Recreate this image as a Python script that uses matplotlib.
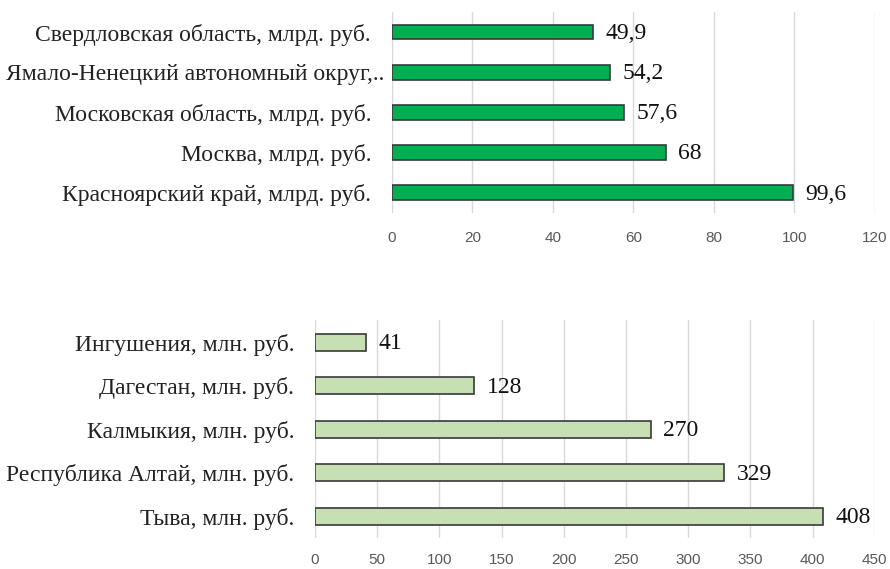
import numpy as np
import matplotlib.pyplot as plt

# top chart: billions of rubles
top_labels = ['Красноярский край, млрд. руб.', 'Москва, млрд. руб.',
              'Московская область, млрд. руб.',
              'Ямало-Ненецкий автономный округ,..',
              'Свердловская область, млрд. руб.']
top_values = [99.6, 68, 57.6, 54.2, 49.9]
top_text = ['99,6', '68', '57,6', '54,2', '49,9']
top_ticks = [0, 20, 40, 60, 80, 100, 120]

# bottom chart: millions of rubles
bot_labels = ['Тыва, млн. руб.', 'Республика Алтай, млн. руб.',
              'Калмыкия, млн. руб.', 'Дагестан, млн. руб.',
              'Ингушения, млн. руб.']
bot_values = [408, 329, 270, 128, 41]
bot_ticks = [0, 50, 100, 150, 200, 250, 300, 350, 400, 450]

serif = 'Liberation Serif'
fig = plt.figure(figsize=(8.9, 5.69), dpi=100)


def bar_panel(rect, labels, values, texts, ticks, color, height, xpad):
    ax = fig.add_axes(rect)
    y = np.arange(len(values))
    ax.barh(y, values, height=height, color=color, edgecolor='#3a3a3a',
            linewidth=1.2, zorder=3)
    ax.set_xlim(ticks[0], ticks[-1])
    ax.set_ylim(-0.5, len(values) - 0.5)
    ax.set_xticks(ticks)
    ax.set_xticklabels([str(t) for t in ticks], family='Liberation Sans',
                       fontsize=11, color='#595959')
    ax.set_yticks(y)
    ax.set_yticklabels(labels, family=serif, fontsize=17, color='#222222')
    ax.tick_params(axis='y', length=0, pad=15)
    ax.tick_params(axis='x', length=0, pad=xpad)
    ax.grid(axis='x', color='#d9d9d9', linewidth=1.0, zorder=0)
    for s in ax.spines.values():
        s.set_visible(False)
    for yi, v, t in zip(y, values, texts):
        ax.annotate(t, (v, yi), xytext=(9, -1), textcoords='offset points',
                    va='center', ha='left', family=serif, fontsize=17,
                    color='#111111')
    return ax


ax1 = bar_panel([0.4404, 0.626, 0.5426, 0.353], top_labels, top_values,
                top_text, top_ticks, '#00b050', 0.37, 13)
# the truncated label runs closer to the axis in the original
ax1.get_yticklabels()[3].set_x(0.028)
bar_panel([0.354, 0.054, 0.629, 0.383], bot_labels, bot_values,
          [str(v) for v in bot_values], bot_ticks, '#c6e0b4', 0.39, 10.5)

fig.savefig('out.png', dpi=100)
